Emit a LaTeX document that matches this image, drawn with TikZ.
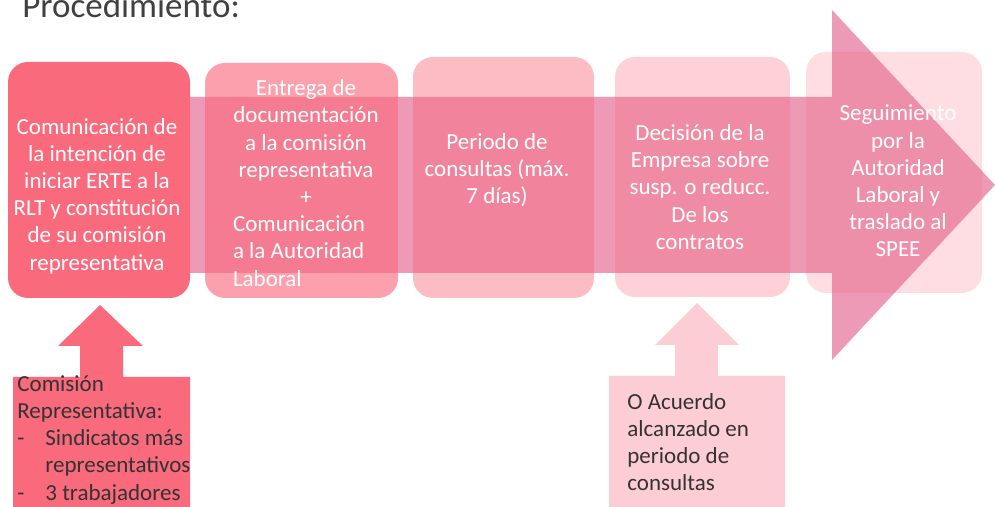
\documentclass[tikz,border=0pt]{standalone}
\usepackage{fontspec}
\setmainfont{Carlito}
\usetikzlibrary{positioning}
\definecolor{erte}{HTML}{F96A7D}
\definecolor{ertearrow}{HTML}{EC9AB6}
\definecolor{ertenote}{HTML}{FDCDD5}
\definecolor{titlegray}{HTML}{404040}
\tikzset{stage/.style={rounded corners=10pt, fill=erte, inner sep=0pt},
	stagetext/.style={text=white, align=center, inner sep=0pt,%
		font=\fontsize{11.5}{13.6}\selectfont},
	notetext/.style={text=black!80, align=left, inner sep=0pt, anchor=north west,%
		font=\fontsize{11.5}{13.6}\selectfont}}

\begin{document}
\begin{tikzpicture}[x=0.5pt, y=-0.5pt]
	\useasboundingbox (0,0) rectangle (995,507);
	\node[anchor=base west, inner sep=0pt, text=titlegray,%
		font=\fontsize{17.5}{20}\selectfont] (title) at (22,18) {Procedimiento:};
	% big arrow behind the stages
	\fill[ertearrow] (100,97) -- (832,97) -- (832,10) -- (995,185) -- (832,360)%
		-- (832,273) -- (100,273) -- cycle;
	% stages
	\node[stage, minimum width=91pt, minimum height=118pt] (s1) at (99,180) {};
	\node[stage, fill opacity=0.64, minimum width=96.5pt, minimum height=117.5pt] (s2) at (301.5,180.5) {};
	\node[stage, fill opacity=0.45, minimum width=90.5pt, minimum height=120.5pt] (s3) at (503.5,177.5) {};
	\node[stage, fill opacity=0.31, minimum width=87.5pt, minimum height=120pt] (s4) at (702.5,177) {};
	\node[stage, fill opacity=0.22, minimum width=88pt, minimum height=120.5pt] (s5) at (894,172.5) {};
	\node[stagetext] (t1) at (97,196) {Comunicación de\\la intención de\\iniciar ERTE a la\\%
		RLT y constitución\\de su comisión\\representativa};
	\node[stagetext] (t2) at (306,187) {Entrega de\\documentación\\a la comisión\\%
		representativa\\+\\\hspace*{-7pt}\begin{tabular}[t]{@{}l@{}}Comunicación\\a la Autoridad\\Laboral\end{tabular}};
	\node[stagetext] (t3) at (497,170) {Periodo de\\consultas (máx.\\7 días)};
	\node[stagetext] (t4) at (700,187) {Decisión de la\\Empresa sobre\\susp. o reducc.\\De los\\contratos};
	\node[stagetext] (t5) at (898,181) {Seguimiento\\por la\\Autoridad\\Laboral y\\traslado al\\SPEE};
	% notes below
	\fill[erte] (100,305) -- (143,346) -- (123,346) -- (123,377) -- (190,377) -- (190,520)%
		-- (13,520) -- (13,377) -- (80,377) -- (80,346) -- (58,346) -- cycle;
	\fill[ertenote] (697,303) -- (739,345) -- (718,345) -- (718,376) -- (785,376) -- (785,520)%
		-- (609,520) -- (609,376) -- (675,376) -- (675,345) -- (655,345) -- cycle;
	\node[notetext] (n1) at (17,375) {Comisión\\Representativa:\\%
		\makebox[14pt][l]{-}Sindicatos más\\\hspace*{14pt}representativos\\%
		\makebox[14pt][l]{-}3 trabajadores};
	\node[notetext] (n2) at (627,393) {O Acuerdo\\alcanzado en\\periodo de\\consultas};
\end{tikzpicture}
\end{document}
